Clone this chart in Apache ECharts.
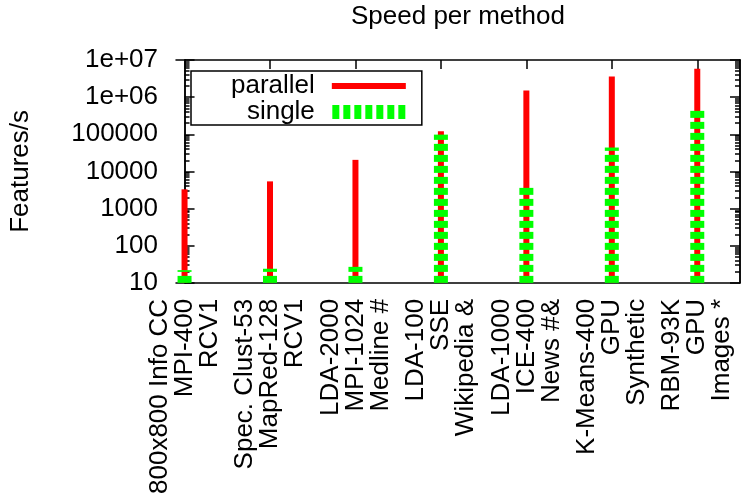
<!DOCTYPE html>
<html>
<head>
<meta charset="utf-8">
<script src="https://cdn.jsdelivr.net/npm/echarts@6/dist/echarts.min.js"></script>
<style>
  html, body { margin: 0; padding: 0; background: #fff; }
  #chart { width: 741px; height: 497px; }
</style>
</head>
<body>
<div id="chart"></div>
<script>
  // tick label lines under each position (algorithm / platform / dataset)
  const algorithms = ['800x800 Info CC', 'Spec. Clust-53', 'LDA-2000', 'LDA-100', 'LDA-1000', 'K-Means-400', 'RBM-93K'];
  const platforms = ['MPI-400', 'MapRed-128', 'MPI-1024', 'SSE', 'ICE-400', 'GPU', 'GPU'];
  const datasets = ['RCV1', 'RCV1', 'Medline #', 'Wikipedia &', 'News #&', 'Synthetic', 'Images *'];

  // features per second
  const parallelSpeed = [3300, 5400, 20500, 120000, 1500000, 3600000, 5800000];
  const singleSpeed = [22, 24, 27, 98000, 3900, 44000, 470000];

  const yTicks = [10, 100, 1000, 10000, 100000, 1000000, 10000000];
  const yTickLabels = ['10', '100', '1000', '10000', '100000', '1e+06', '1e+07'];

  const FONT = 'Liberation Sans';
  const FS = 26;
  const positions = algorithms.map((_, i) => i);
  const minorTicks = [];
  yTicks.slice(0, -1).forEach(d => {
    for (let k = 2; k <= 9; k++) minorTicks.push(d * k);
  });

  const chart = echarts.init(document.getElementById('chart'), null, { renderer: 'canvas' });

  function renderImpulse(params, api) {
    const x = api.value(0);
    const top = api.coord([x, api.value(1)]);
    const base = api.coord([x, yTicks[0]]);
    return {
      type: 'rect',
      shape: { x: top[0] - 3, y: top[1], width: 6, height: base[1] - top[1] },
      style: { fill: api.visual('color') }
    };
  }

  function renderDashed(params, api) {
    const x = api.value(0);
    const top = api.coord([x, api.value(1)]);
    const base = api.coord([x, yTicks[0]]);
    const children = [];
    for (let y = base[1]; y > top[1]; y -= 11) {
      const y0 = Math.max(y - 7, top[1]);
      children.push({
        type: 'rect',
        shape: { x: top[0] - 7, y: y0, width: 14, height: y - y0 },
        style: { fill: api.visual('color') }
      });
    }
    return { type: 'group', children };
  }

  const xBase = {
    type: 'value',
    min: -0.1,
    max: 6.5,
    splitLine: { show: false },
    axisLine: { show: true, onZero: false, lineStyle: { color: '#000', width: 1.5 } }
  };

  const yBase = {
    type: 'log',
    logBase: 10,
    min: 10,
    max: 10000000,
    splitLine: { show: false },
    minorTick: { show: false },
    axisLine: { show: true, lineStyle: { color: '#000', width: 1.5 } }
  };

  const option = {
    backgroundColor: '#fff',
    animation: false,
    textStyle: { fontFamily: FONT },
    title: {
      text: 'Speed per method',
      left: 351,
      top: 4,
      padding: 0,
      textStyle: { fontFamily: FONT, fontSize: FS, fontWeight: 'normal', color: '#000' }
    },
    legend: {
      orient: 'vertical',
      align: 'right',
      left: 191,
      top: 71,
      padding: [2, 16, 0, 40],
      itemGap: 0,
      itemWidth: 74,
      itemHeight: 14,
      borderColor: '#000',
      borderWidth: 1.5,
      textStyle: { fontFamily: FONT, fontSize: FS, color: '#000', lineHeight: 26, padding: [0, 12, 0, 0] },
      data: [
        { name: 'parallel', icon: 'path://M0,0h74v6h-74Z' },
        { name: 'single', icon: 'path://M0,0h7v14h-7ZM11,0h7v14h-7ZM22,0h7v14h-7ZM33,0h7v14h-7ZM44,0h7v14h-7ZM55,0h7v14h-7ZM66,0h7v14h-7Z' }
      ]
    },
    grid: { left: 175, right: 1, top: 60, bottom: 213 },
    xAxis: [
      Object.assign({}, xBase, {
        position: 'bottom',
        axisTick: { show: true, inside: true, length: 9, customValues: positions, lineStyle: { color: '#000', width: 1.5 } },
        axisLabel: {
          customValues: positions,
          rotate: 90,
          margin: 16,
          fontFamily: FONT,
          fontSize: FS,
          lineHeight: 25,
          color: '#000',
          formatter: v => {
            const i = Math.round(v);
            return algorithms[i] + '\n' + platforms[i] + '\n' + datasets[i];
          }
        }
      }),
      Object.assign({}, xBase, {
        position: 'top',
        axisTick: { show: true, inside: true, length: 9, customValues: positions, lineStyle: { color: '#000', width: 1.5 } },
        axisLabel: { show: false }
      })
    ],
    yAxis: [
      Object.assign({}, yBase, {
        position: 'left',
        name: 'Features/s',
        nameLocation: 'middle',
        nameGap: 142,
        nameTextStyle: { fontFamily: FONT, fontSize: FS, color: '#000' },
        axisTick: { show: true, inside: true, length: 10, customValues: yTicks, lineStyle: { color: '#000', width: 1.5 } },
        axisLabel: {
          customValues: yTicks,
          margin: 18,
          fontFamily: FONT,
          fontSize: FS,
          color: '#000',
          formatter: v => yTickLabels[yTicks.indexOf(v)] || String(v)
        }
      }),
      Object.assign({}, yBase, {
        position: 'left',
        axisTick: { show: true, inside: true, length: 5, customValues: minorTicks, lineStyle: { color: '#000', width: 1.5 } },
        axisLabel: { show: false }
      }),
      Object.assign({}, yBase, {
        position: 'right',
        axisTick: { show: true, inside: true, length: 10, customValues: yTicks, lineStyle: { color: '#000', width: 1.5 } },
        axisLabel: { show: false }
      }),
      Object.assign({}, yBase, {
        position: 'right',
        axisTick: { show: true, inside: true, length: 5, customValues: minorTicks, lineStyle: { color: '#000', width: 1.5 } },
        axisLabel: { show: false }
      })
    ],
    series: [
      {
        name: 'parallel',
        type: 'custom',
        xAxisIndex: 0,
        yAxisIndex: 0,
        itemStyle: { color: '#ff0000' },
        renderItem: renderImpulse,
        data: parallelSpeed.map((v, i) => [i, v]),
        z: 2
      },
      {
        name: 'single',
        type: 'custom',
        xAxisIndex: 0,
        yAxisIndex: 0,
        itemStyle: { color: '#00ff00' },
        renderItem: renderDashed,
        data: singleSpeed.map((v, i) => [i, v]),
        z: 3
      }
    ]
  };

  chart.setOption(option);
</script>
</body>
</html>
